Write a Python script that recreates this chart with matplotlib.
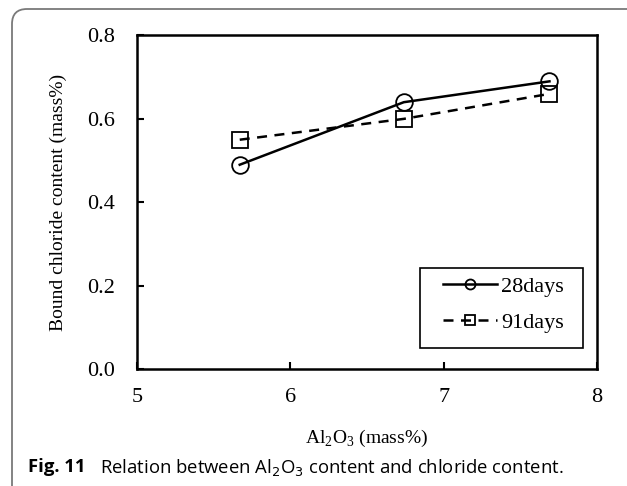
import matplotlib
matplotlib.use("Agg")
import matplotlib.pyplot as plt
from matplotlib.patches import FancyBboxPatch, Rectangle

# Al2O3 content (mass%) and bound chloride content (mass%)
al2o3 = [5.67, 6.74, 7.69]
bound_28d = [0.49, 0.64, 0.69]
bound_91d = [0.55, 0.60, 0.66]
series_names = ["28days", "91days"]

plt.rcParams["font.family"] = ["Liberation Serif", "DejaVu Serif"]
plt.rcParams["mathtext.fontset"] = "custom"
plt.rcParams["mathtext.rm"] = "Liberation Serif"

W, H = 627, 486
fig = plt.figure(figsize=(W / 100, H / 100), dpi=100)

# rounded frame around the figure (runs off the right and bottom edges), in inches
frame = FancyBboxPatch((0.12, -1.0), 10.0, 4.77 + 1.0, transform=fig.dpi_scale_trans,
                       boxstyle="round,pad=0,rounding_size=0.15",
                       fill=False, edgecolor="#7a7a7a", linewidth=1.3)
fig.patches.append(frame)

# axes box in pixels: x 137..597, y 35.5..369
ax_l, ax_r, ax_t, ax_b = 137, 597, 35.5, 369
aw, ah = ax_r - ax_l, ax_b - ax_t
ax = fig.add_axes([ax_l / W, 1 - ax_b / H, aw / W, ah / H])

def ax_x(px):
    return (px - ax_l) / aw

def ax_y(py):
    return (ax_b - py) / ah

ax.plot(al2o3, bound_28d, "k-", marker="o", markersize=12, markerfacecolor="none",
        markeredgewidth=1.3, linewidth=1.8, label=series_names[0])
ax.plot(al2o3, bound_91d, "k--", marker="s", markersize=11.5, markerfacecolor="none",
        markeredgewidth=1.3, linewidth=1.8, dashes=(4, 3), label=series_names[1])

ax.set_xlim(5, 8)
ax.set_ylim(0, 0.8)
ax.set_xticks([5, 6, 7, 8])
ax.set_yticks([0.0, 0.2, 0.4, 0.6, 0.8])
ax.set_yticklabels(["0.0", "0.2", "0.4", "0.6", "0.8"])
ax.tick_params(direction="in", length=5, width=1.5, labelsize=16,
               top=False, right=False)
ax.tick_params(axis="y", pad=16)
ax.tick_params(axis="x", pad=14)
for s in ax.spines.values():
    s.set_linewidth(1.8)

ax.set_xlabel(r"Al$_2$O$_3$ (mass%)", fontsize=14)
ax.xaxis.set_label_coords(0.5, ax_y(428))
ax.set_ylabel("Bound chloride content (mass%)", fontsize=14)
ax.yaxis.set_label_coords(ax_x(67), 0.5)

# legend without its own frame, square frame drawn separately
leg = ax.legend(loc="upper left", bbox_to_anchor=(ax_x(443), ax_y(276)),
                fontsize=16, frameon=False, handlelength=2.45, handletextpad=0.15,
                borderpad=0, labelspacing=0.7, borderaxespad=0, markerscale=0.6)
ax.add_patch(Rectangle((ax_x(420), ax_y(348)), ax_x(583) - ax_x(420), ax_y(268) - ax_y(348),
                       transform=ax.transAxes, fill=False, edgecolor="black",
                       linewidth=1.2, zorder=5))

fig.text(28 / W, 1 - 467 / H, "Fig. 11", fontsize=13.3, fontweight="bold",
         family="Open Sans", va="center", ha="left")
fig.text(100 / W, 1 - 467 / H, r"Relation between Al$_2$O$_3$ content and chloride content.",
         fontsize=13.3, family="Open Sans", va="center", ha="left",
         math_fontfamily="dejavusans")

fig.savefig("out.png", dpi=100)
